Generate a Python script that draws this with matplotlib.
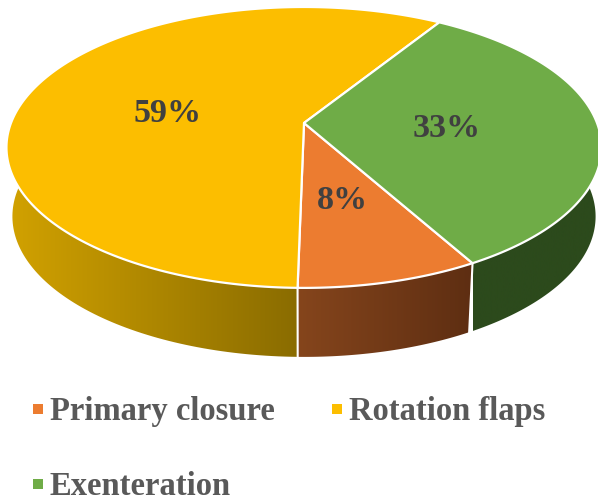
import numpy as np
import matplotlib
matplotlib.use("Agg")
import matplotlib.pyplot as plt
from matplotlib.patches import Polygon, Rectangle
from matplotlib.colors import LinearSegmentedColormap

categories = ["Primary closure", "Rotation flaps", "Exenteration"]
shares = [8.4, 58.6, 33.0]
percent_labels = ["8%", "59%", "33%"]

top_colors = ["#EC7C30", "#FCBE00", "#6FAC47"]
side_left = ["#85451C", "#D2A200", "#2C4A1C"]
side_right = ["#5E2E12", "#8A6C00", "#2C4A1C"]
label_pos = [(342, 201), (168, 113), (447, 129)]
legend_pos = [(38, 410), (337, 410), (38, 485)]

# pie centre and perspective, in pixels
cx, cy = 304, 124
rx, ry = 293, 136.2
persp = 0.174
depth = 69
bottom_scale = 0.98


def project(theta):
    X = np.cos(theta)
    Y = np.sin(theta)
    w = 1 + persp * Y
    return cx + rx * X / w, cy - ry * Y / w


def lower(x, y):
    return cx + (x - cx) * bottom_scale, y + depth


fig = plt.figure(figsize=(5.98, 5.02), dpi=100)
ax = fig.add_axes([0, 0, 1, 1])
ax.axis("off")

start = -60.8
edges = start - np.cumsum([0] + shares) * 3.6

# side walls first, the top face covers the back of them
for i in range(3):
    t = np.radians(np.linspace(edges[i + 1], edges[i], 200))
    x, y = project(t)
    xb, yb = lower(x, y)
    pts = np.column_stack([np.r_[x, xb[::-1]], np.r_[y, yb[::-1]]])
    wall = Polygon(pts, closed=True, fc="none", ec="none")
    ax.add_patch(wall)
    cmap = LinearSegmentedColormap.from_list("wall", [side_left[i], side_right[i]])
    xv, _ = project(t[np.sin(t) < 0.25])
    grad = np.linspace(0, 1, 256).reshape(1, -1)
    im = ax.imshow(grad, cmap=cmap, extent=[xv.min(), xv.max(), 380, 0], aspect="auto", zorder=1)
    im.set_clip_path(wall)

ax.set_xlim(0, 598)
ax.set_ylim(502, 0)

# seams between the walls
for a in edges[:3]:
    x, y = project(np.radians(np.array([a])))
    if np.sin(np.radians(a)) < 0:
        xb, yb = lower(x, y)
        ax.plot([x[0], xb[0]], [y[0], yb[0]], color="white", lw=1.5, zorder=2)

# top face
for i in range(3):
    t = np.radians(np.linspace(edges[i + 1], edges[i], 200))
    x, y = project(t)
    pts = np.column_stack([np.r_[cx, x], np.r_[cy, y]])
    ax.add_patch(Polygon(pts, closed=True, fc=top_colors[i], ec="white", lw=1.6,
                         joinstyle="round", zorder=3))

for (x, y), txt in zip(label_pos, percent_labels):
    ax.text(x, y, txt, ha="center", va="center", fontsize=24.5, fontweight="bold",
            family="Liberation Serif", color="#404040", zorder=4)

for (x, y), name, c in zip(legend_pos, categories, top_colors):
    ax.add_patch(Rectangle((x - 5, y - 5), 10, 10, fc=c, ec="none"))
    ax.text(x + 12, y + 2, name, ha="left", va="center", fontsize=23.5, fontweight="bold",
            family="Liberation Serif", color="#595959")

fig.savefig("out.png", dpi=100)
